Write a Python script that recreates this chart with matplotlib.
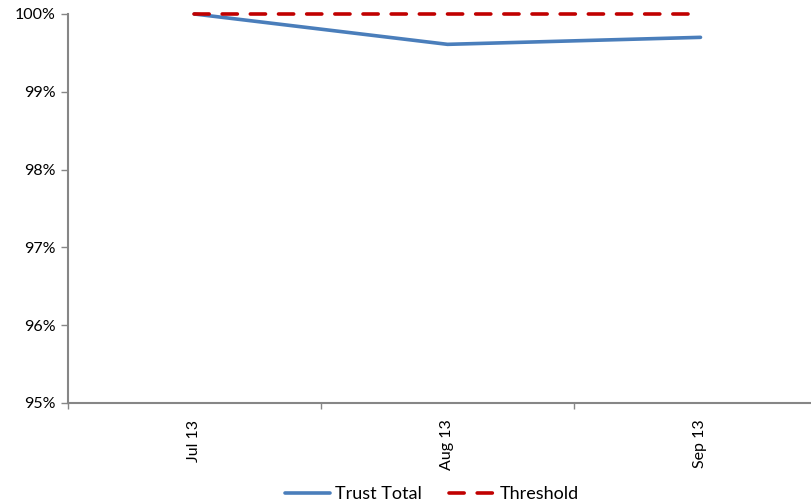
import numpy as np
import matplotlib
matplotlib.use('Agg')
import matplotlib.pyplot as plt
from matplotlib.ticker import FixedLocator, FuncFormatter

months = ['Jul 13', 'Aug 13', 'Sep 13']
trust_total = [100.0, 99.61, 99.70]
threshold = [100.0, 100.0, 100.0]

plt.rcParams['font.family'] = ['Lato', 'DejaVu Sans']
axis_grey = '#868686'

fig = plt.figure(figsize=(8.12, 5.03), dpi=100)
ax = fig.add_axes([68/812, 100/503, 759/812, 389/503])

x = np.arange(len(months))
ax.plot(x, trust_total, color='#4A7EBB', lw=2.6, solid_capstyle='round',
        label='Trust Total', clip_on=False)
ax.plot(x, threshold, color='#C00000', lw=2.6, dashes=(4.2, 3.6), dash_capstyle='round',
        label='Threshold', clip_on=False)

ax.set_xlim(-0.5, 2.5)
ax.set_ylim(95, 100)
ax.set_yticks([95, 96, 97, 98, 99, 100])
ax.yaxis.set_major_formatter(FuncFormatter(lambda v, p: '%d%%' % v))

ax.set_xticks(x)
ax.set_xticklabels(months, rotation=90, fontsize=11.5)
ax.xaxis.set_minor_locator(FixedLocator([-0.5, 0.5, 1.5, 2.5]))
ax.tick_params(axis='x', which='major', length=0, pad=12)
ax.tick_params(axis='x', which='minor', length=4, color=axis_grey, width=1)
ax.tick_params(axis='y', length=5, color=axis_grey, width=1, labelsize=11.5, pad=4)

for s in ['top', 'right']:
    ax.spines[s].set_visible(False)
for s in ['left', 'bottom']:
    ax.spines[s].set_color(axis_grey)
    ax.spines[s].set_linewidth(1.5)

fig.legend(loc='lower center', bbox_to_anchor=(432/812, -0.03), ncol=2, frameon=False,
           fontsize=13, handlelength=2.5, columnspacing=1.5, handletextpad=0.3)

fig.savefig('out.png', dpi=100)
